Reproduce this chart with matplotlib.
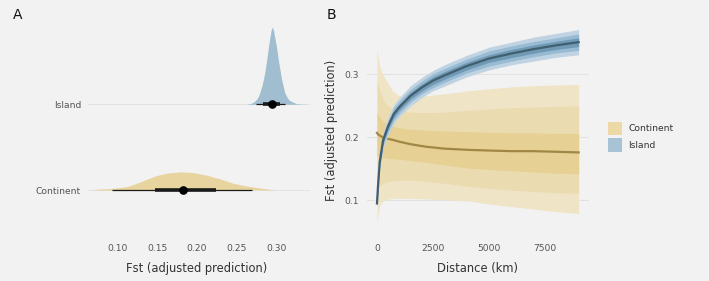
import matplotlib.pyplot as plt
from matplotlib.patches import Rectangle

W, H = 709, 281
BG = '#f2f2f2'
GRID = '#e2e2e2'

# ---- panel A: posterior densities of adjusted Fst ----
groups = ['Continent', 'Island']

cont_x = [0.068, 0.072, 0.095, 0.1118, 0.1243, 0.1369, 0.1494, 0.1620, 0.1787,
          0.1954, 0.2121, 0.2289, 0.2455, 0.2623, 0.2790, 0.2957, 0.300]
cont_dens = [0, 0.009, 0.022, 0.043, 0.087, 0.139, 0.187, 0.218, 0.235,
             0.226, 0.192, 0.144, 0.087, 0.052, 0.026, 0.004, 0]

isl_x = [0.262, 0.268, 0.2707, 0.274, 0.2769, 0.279, 0.2812, 0.2833, 0.2853,
         0.2875, 0.2895, 0.2915, 0.293, 0.2945, 0.296, 0.2975, 0.300, 0.302,
         0.3041, 0.306, 0.3083, 0.310, 0.3125, 0.315, 0.3188, 0.325, 0.337]
isl_dens = [0, 0.012, 0.026, 0.055, 0.10, 0.155, 0.23, 0.32, 0.43,
            0.58, 0.73, 0.87, 0.96, 1.0, 0.96, 0.87, 0.73, 0.58,
            0.45, 0.33, 0.23, 0.155, 0.10, 0.06, 0.035, 0.008, 0]

point_est = [0.1828, 0.2937]
thick_lo = [0.1473, 0.2824]
thick_hi = [0.2238, 0.3040]
thin_lo = [0.093, 0.274]
thin_hi = [0.2686, 0.3104]

# ---- panel B: adjusted prediction vs distance ----
isl_dist = [0, 50, 120, 270, 500, 750, 1000, 1500, 2000, 2500, 3000, 4000,
            5000, 6000, 7000, 8000, 9000]
isl_fit = [0.095, 0.125, 0.16, 0.195, 0.218, 0.237, 0.248, 0.266, 0.279, 0.29,
           0.298, 0.313, 0.325, 0.333, 0.340, 0.346, 0.351]
isl_lo95 = [0.091, 0.117, 0.149, 0.182, 0.204, 0.222, 0.233, 0.250, 0.263, 0.274,
            0.281, 0.296, 0.307, 0.315, 0.321, 0.327, 0.331]
isl_hi95 = [0.099, 0.133, 0.171, 0.208, 0.232, 0.252, 0.263, 0.282, 0.295, 0.306,
            0.315, 0.330, 0.343, 0.351, 0.359, 0.365, 0.371]
isl_lo80 = [0.092, 0.120, 0.153, 0.187, 0.209, 0.227, 0.238, 0.256, 0.269, 0.279,
            0.287, 0.302, 0.313, 0.321, 0.328, 0.334, 0.338]
isl_hi80 = [0.098, 0.130, 0.167, 0.203, 0.227, 0.247, 0.258, 0.276, 0.289, 0.301,
            0.309, 0.324, 0.337, 0.345, 0.352, 0.358, 0.364]
isl_lo50 = [0.0935, 0.122, 0.156, 0.1905, 0.213, 0.232, 0.243, 0.2605, 0.2735, 0.284,
            0.292, 0.307, 0.319, 0.3265, 0.3335, 0.3395, 0.344]
isl_hi50 = [0.0965, 0.128, 0.164, 0.1995, 0.223, 0.242, 0.253, 0.2715, 0.2845, 0.296,
            0.304, 0.319, 0.331, 0.3395, 0.3465, 0.3525, 0.358]

cont_dist = [0, 40, 120, 250, 420, 700, 1000, 1500, 2200, 3000, 4100, 5000,
             6000, 7000, 8000, 9000]
cont_fit = [0.207, 0.205, 0.203, 0.200, 0.198, 0.196, 0.193, 0.189, 0.185, 0.182,
            0.180, 0.179, 0.178, 0.178, 0.177, 0.176]
cont_hi95 = [0.341, 0.33, 0.312, 0.300, 0.290, 0.273, 0.266, 0.264, 0.266, 0.269,
             0.274, 0.277, 0.280, 0.282, 0.283, 0.284]
cont_lo95 = [0.064, 0.075, 0.092, 0.098, 0.101, 0.103, 0.103, 0.103, 0.102, 0.101,
             0.099, 0.094, 0.090, 0.086, 0.082, 0.079]
cont_hi80 = [0.29, 0.285, 0.275, 0.262, 0.252, 0.245, 0.242, 0.240, 0.239, 0.240,
             0.243, 0.245, 0.247, 0.248, 0.249, 0.250]
cont_lo80 = [0.115, 0.118, 0.122, 0.126, 0.129, 0.131, 0.132, 0.132, 0.130, 0.127,
             0.122, 0.119, 0.116, 0.114, 0.112, 0.111]
cont_hi50 = [0.238, 0.236, 0.232, 0.226, 0.222, 0.218, 0.215, 0.213, 0.211, 0.210,
             0.209, 0.208, 0.207, 0.207, 0.206, 0.206]
cont_lo50 = [0.170, 0.170, 0.169, 0.168, 0.167, 0.166, 0.165, 0.163, 0.160, 0.156,
             0.151, 0.149, 0.147, 0.145, 0.143, 0.142]

cont_cols = ['#efe4c6', '#ebdbb0', '#e7d094']
isl_cols = ['#bfd3e2', '#98bad2', '#7099b5']
cont_line = '#a08746'
isl_line = '#415f6e'
cont_fill = '#e8d49e'
isl_fill = '#a0becf'


def fx(px):
    return px / W


def fy(py):
    return 1 - py / H


plt.rcParams['font.family'] = 'DejaVu Sans'
fig = plt.figure(figsize=(W / 100, H / 100), dpi=100, facecolor=BG)

top, bot = 19, 234
axA = fig.add_axes([fx(88), fy(bot), fx(310) - fx(88), fy(top) - fy(bot)])
axB = fig.add_axes([fx(366.9), fy(bot), fx(588.7) - fx(366.9), fy(top) - fy(bot)])

for ax in (axA, axB):
    ax.set_facecolor(BG)
    for s in ax.spines.values():
        s.set_visible(False)
    ax.tick_params(length=0, labelsize=6.6, labelcolor='#555555')

# panel A
scale = 0.9
for y0 in [1, 2]:
    axA.axhline(y0, color=GRID, lw=0.7, zorder=0)
xs = [cont_x, isl_x]
ds = [cont_dens, isl_dens]
fills = [cont_fill, isl_fill]
for i, y0 in enumerate([1, 2]):
    axA.fill_between(xs[i], y0, [y0 + scale * d for d in ds[i]],
                     color=fills[i], lw=0, zorder=1)
    axA.plot([thin_lo[i], thin_hi[i]], [y0, y0], color='#1a1a1a', lw=0.9,
             solid_capstyle='butt', zorder=3)
    axA.plot([thick_lo[i], thick_hi[i]], [y0, y0], color='#1a1a1a', lw=2.6,
             solid_capstyle='butt', zorder=3)
    axA.plot(point_est[i], y0, 'o', color='#000000', ms=5.2, zorder=4)

axA.set_xlim(0.10 + (88 - 117.3) / 797, 0.10 + (310 - 117.3) / 797)
axA.set_ylim(1 - (bot - 190) / 85.7, 1 + (190 - top) / 85.7)
axA.set_yticks([1, 2])
axA.set_yticklabels(groups)
axA.set_xticks([0.10, 0.15, 0.20, 0.25, 0.30])
axA.set_xticklabels(['0.10', '0.15', '0.20', '0.25', '0.30'])
axA.tick_params(axis='x', pad=7.5)
axA.tick_params(axis='y', pad=5)
axA.set_xlabel('Fst (adjusted prediction)', fontsize=8.3, color='#333333')
axA.xaxis.set_label_coords((196.3 - 88) / 222, (bot - 261.6) / (bot - top))

# panel B
for v in [0.1, 0.2, 0.3]:
    axB.axhline(v, color=GRID, lw=0.8, zorder=0)

cont_bands = [(cont_lo95, cont_hi95), (cont_lo80, cont_hi80), (cont_lo50, cont_hi50)]
for (lo, hi), c in zip(cont_bands, cont_cols):
    axB.fill_between(cont_dist, lo, hi, color=c, lw=0, zorder=1)
axB.plot(cont_dist, cont_fit, color=cont_line, lw=1.6, zorder=2)

isl_bands = [(isl_lo95, isl_hi95), (isl_lo80, isl_hi80), (isl_lo50, isl_hi50)]
for (lo, hi), c in zip(isl_bands, isl_cols):
    axB.fill_between(isl_dist, lo, hi, color=c, lw=0, zorder=3)
axB.plot(isl_dist, isl_fit, color=isl_line, lw=1.6, zorder=4)

axB.set_xlim(-450, 9450)
axB.set_ylim(0.3 - (bot - 74.3) / 630, 0.3 + (74.3 - top) / 630)
axB.set_xticks([0, 2500, 5000, 7500])
axB.set_yticks([0.1, 0.2, 0.3])
axB.set_yticklabels(['0.1', '0.2', '0.3'])
axB.tick_params(axis='x', pad=7.5)
axB.tick_params(axis='y', pad=5.5)
axB.set_xlabel('Distance (km)', fontsize=8.3, color='#333333')
axB.xaxis.set_label_coords((477.7 - 366.9) / 221.8, (bot - 261.6) / (bot - top))
axB.set_ylabel('Fst (adjusted prediction)', fontsize=8.3, color='#333333')
axB.yaxis.set_label_coords((338 - 366.9) / 221.8, (bot - 130.8) / (bot - top))

# legend
leg_labels = ['Continent', 'Island']
leg_cols = ['#ecd9a6', '#a8c3d6']
for k, (lab, c) in enumerate(zip(leg_labels, leg_cols)):
    y_top = 121.7 + k * 16.6
    fig.patches.append(Rectangle((fx(608.3), fy(y_top + 13.3)), fx(13.3), 13.3 / H,
                                 transform=fig.transFigure, color=c, lw=0))
    fig.text(fx(628.3), fy(y_top + 6.8), lab, fontsize=6.6, color='#333333',
             ha='left', va='center')

fig.text(fx(13), fy(15), 'A', fontsize=10, color='#111111', ha='left', va='center')
fig.text(fx(327), fy(15), 'B', fontsize=10, color='#111111', ha='left', va='center')

fig.savefig('out.png', dpi=100, facecolor=BG)
